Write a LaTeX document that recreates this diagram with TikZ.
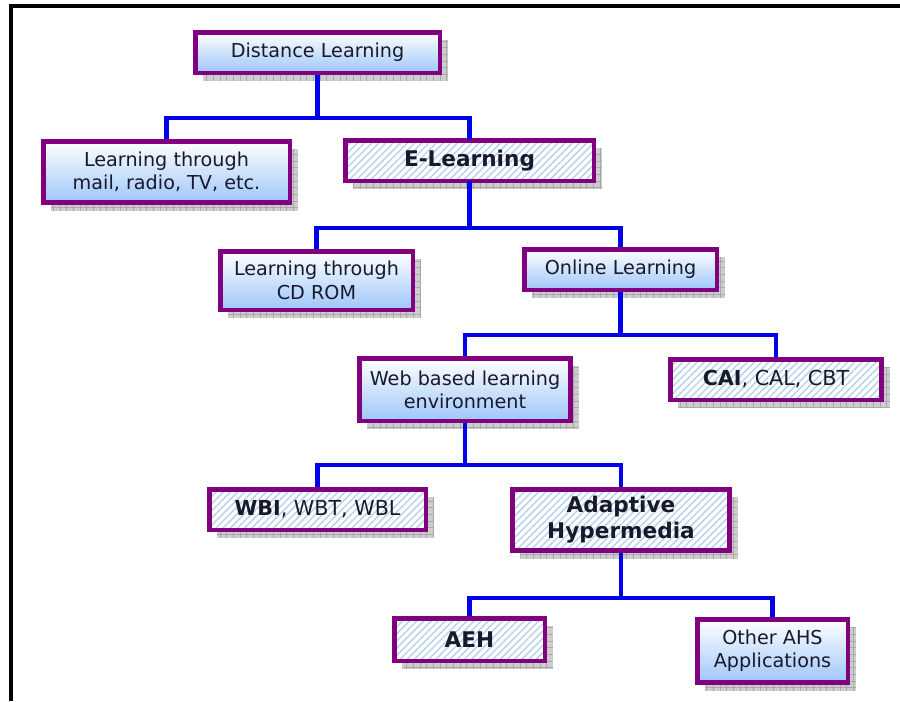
\documentclass[tikz,border=0pt]{standalone}
\usepackage{fontspec}
\setmainfont{DejaVu Sans}
\usetikzlibrary{patterns.meta,shadows}

\definecolor{boxpurple}{RGB}{128,0,128}
\definecolor{linkblue}{RGB}{0,0,235}
\definecolor{boxblue}{RGB}{158,198,248}
\definecolor{hatchblue}{RGB}{180,208,236}
\definecolor{shadowgray}{RGB}{205,205,205}
\definecolor{shadowline}{RGB}{168,168,168}
\definecolor{textdark}{RGB}{25,25,45}

\tikzset{
  boxshadow/.style={
    general shadow={shadow xshift=6pt, shadow yshift=-6pt, fill=shadowgray},
    general shadow={shadow xshift=6pt, shadow yshift=-6pt,
      pattern={Hatch[angle=0, distance=5pt, line width=0.5pt]},
      pattern color=shadowline}},
  box/.style={boxshadow, draw=boxpurple, line width=3.4pt, inner sep=0pt,
    align=center, text=textdark, font=\fontsize{14.4}{17.5}\selectfont},
  plainbox/.style={box, top color=white, bottom color=boxblue},
  hatchbox/.style={box, preaction={fill=white},
    pattern={Lines[angle=45, distance=3.8pt, line width=1pt]},
    pattern color=hatchblue},
  link/.style={draw=linkblue, line width=3.2pt},
  big/.style={font=\fontsize{16.2}{19.5}\selectfont\bfseries},
  mid/.style={font=\fontsize{15.5}{19}\selectfont},
}

\begin{document}
\begin{tikzpicture}[x=0.75pt, y=-0.75pt]
  \useasboundingbox (0,0) rectangle (900,701);

  % page frame
  \draw[line width=2.3pt] (11,701) -- (11,6) -- (900,6);

  % boxes
  \node[plainbox, minimum width=183.4pt, minimum height=30.4pt] (dl) at (317.5,52.5) {Distance Learning};
  \node[plainbox, minimum width=184.9pt, minimum height=46.1pt] (mail) at (166.5,172) {Learning through\\mail, radio, TV, etc.};
  \node[hatchbox, big, minimum width=186.4pt, minimum height=30.4pt] (el) at (469.5,160.5) {E-Learning};
  \node[plainbox, minimum width=144.4pt, minimum height=43.9pt] (cd) at (316.5,280.5) {Learning through\\CD ROM};
  \node[plainbox, minimum width=144.4pt, minimum height=30.4pt] (ol) at (620.5,269.5) {Online Learning};
  \node[plainbox, minimum width=158.6pt, minimum height=46.9pt] (web) at (465,389.5) {Web based learning\\environment};
  \node[hatchbox, mid, minimum width=158.6pt, minimum height=30.4pt] (cai) at (776,379.5) {\textbf{CAI}, CAL, CBT};
  \node[hatchbox, mid, minimum width=162.4pt, minimum height=30.4pt] (wbi) at (317.5,509.5) {\textbf{WBI}, WBT, WBL};
  \node[hatchbox, big, minimum width=163.1pt, minimum height=46.1pt] (ah) at (621,520) {Adaptive\\Hypermedia};
  \node[hatchbox, big, minimum width=112.9pt, minimum height=31.9pt] (aeh) at (469.5,639.5) {AEH};
  \node[plainbox, minimum width=112.9pt, minimum height=47.6pt] (oth) at (772.5,651) {Other AHS\\Applications};

  % junction points of the tree
  \coordinate (j1) at (317.5,118);
  \coordinate (j2) at (469.5,228);
  \coordinate (j3) at (620.5,335);
  \coordinate (j4) at (465,465);
  \coordinate (j5) at (621,598);

  % connectors
  \draw[link] (dl.south) -- (j1);
  \draw[link] (mail.north) |- (j1) -| (el.north);
  \draw[link] (el.south) -- (j2);
  \draw[link] (cd.north) |- (j2) -| (ol.north);
  \draw[link] (ol.south) -- (j3);
  \draw[link] (web.north) |- (j3) -| (cai.north);
  \draw[link] (web.south) -- (j4);
  \draw[link] (wbi.north) |- (j4) -| (ah.north);
  \draw[link] (ah.south) -- (j5);
  \draw[link] (aeh.north) |- (j5) -| (oth.north);
\end{tikzpicture}
\end{document}
